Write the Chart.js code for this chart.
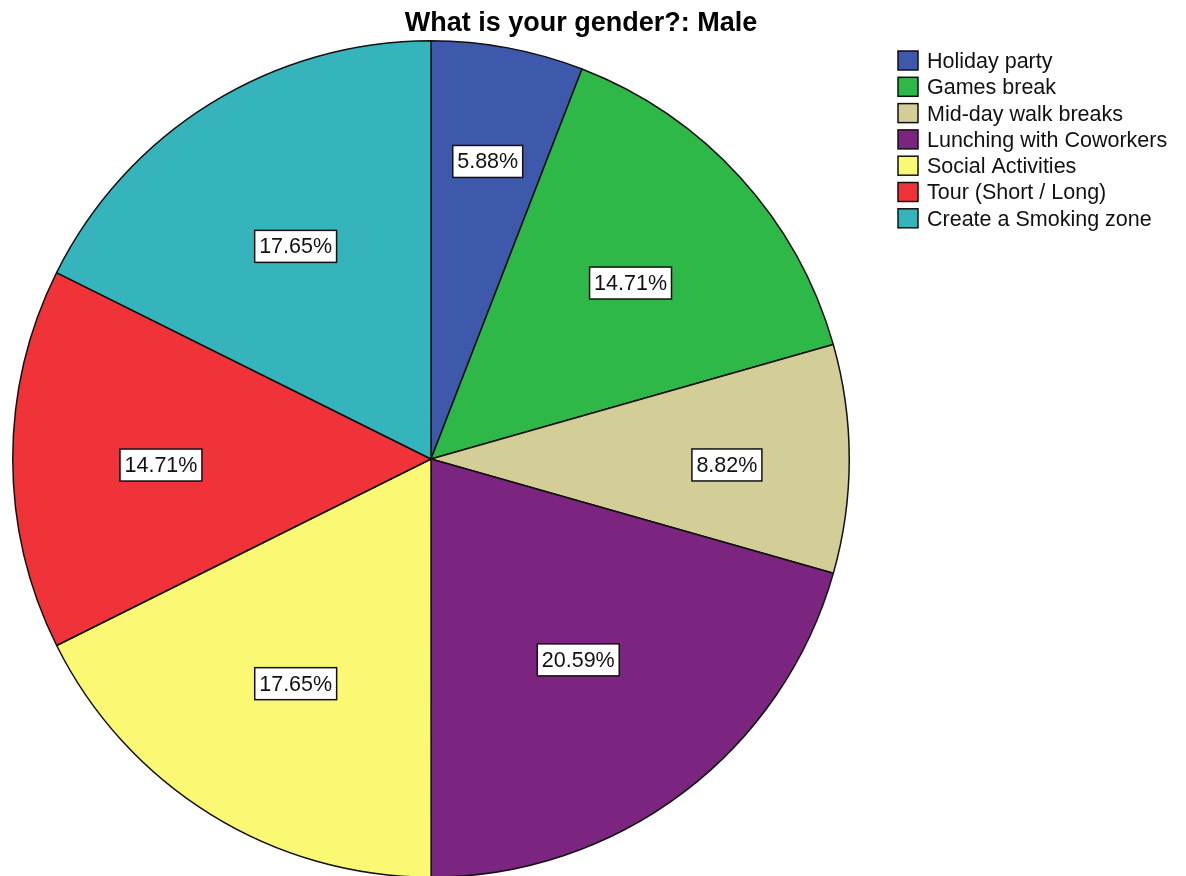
<!DOCTYPE html>
<html>
<head>
<meta charset="utf-8">
<title>What is your gender?: Male</title>
<script src="https://cdn.jsdelivr.net/npm/chart.js@4"></script>
<style>
  html, body { margin: 0; padding: 0; background: #fff; overflow: hidden; }
  #wrap { position: relative; width: 1186px; height: 880px; }
</style>
</head>
<body>
<div id="wrap"><canvas id="pie"></canvas></div>
<script>
const chartTitle = 'What is your gender?: Male';
const categories = [
    'Holiday party',
    'Games break',
    'Mid-day walk breaks',
    'Lunching with Coworkers',
    'Social Activities',
    'Tour (Short / Long)',
    'Create a Smoking zone'
];
const percents = [5.88, 14.71, 8.82, 20.59, 17.65, 14.71, 17.65];
const sliceColors = ['#3e58ac', '#2eb848', '#d3ce97', '#7b2580', '#fbf873', '#ef3338', '#36b4bb'];

const FONT = '"Liberation Sans", Arial, sans-serif';

// title, legend and the boxed percentage labels are painted by hand
const decorations = {
    id: 'decorations',
    afterDatasetsDraw(chart) {
        const ctx = chart.ctx;
        const meta = chart.getDatasetMeta(0);
        ctx.save();

        // value boxes inside each slice
        ctx.font = '21.5px ' + FONT;
        ctx.textAlign = 'center';
        ctx.textBaseline = 'middle';
        meta.data.forEach((arc, i) => {
            const p = arc.getProps(['x', 'y', 'startAngle', 'endAngle', 'outerRadius'], true);
            const mid = (p.startAngle + p.endAngle) / 2;
            const sweep = p.endAngle - p.startAngle;
            const r = p.outerRadius * (0.80 - 0.167 * sweep);
            const cx = p.x + Math.cos(mid) * r;
            const cy = p.y + Math.sin(mid) * r + 6;
            const text = percents[i].toFixed(2) + '%';
            const w = ctx.measureText(text).width + 9;
            const h = 32;
            ctx.fillStyle = '#fff';
            ctx.fillRect(cx - w / 2, cy - h / 2, w, h);
            ctx.strokeStyle = '#111';
            ctx.lineWidth = 1.5;
            ctx.strokeRect(cx - w / 2, cy - h / 2, w, h);
            ctx.fillStyle = '#111';
            ctx.fillText(text, cx, cy + 1);
        });

        // title
        ctx.font = 'bold 27px ' + FONT;
        ctx.fillStyle = '#000';
        ctx.fillText(chartTitle, 581, 24);

        // legend
        ctx.font = '21.5px ' + FONT;
        ctx.textAlign = 'left';
        categories.forEach((name, i) => {
            const y = 61 + i * 26.3;
            ctx.fillStyle = sliceColors[i];
            ctx.fillRect(898, y - 10, 20, 19);
            ctx.strokeStyle = '#111';
            ctx.lineWidth = 1.5;
            ctx.strokeRect(898, y - 10, 20, 19);
            ctx.fillStyle = '#111';
            ctx.fillText(name, 927, y + 1);
        });
        ctx.restore();
    }
};

new Chart(document.getElementById('pie'), {
    type: 'pie',
    data: {
        labels: categories,
        datasets: [{
            data: percents,
            backgroundColor: sliceColors,
            borderColor: '#111',
            borderWidth: 1.5
        }]
    },
    options: {
        responsive: true,
        maintainAspectRatio: false,
        animation: false,
        layout: { padding: { left: 12, right: 336, top: 40, bottom: 2 } },
        plugins: {
            legend: { display: false },
            title: { display: false },
            tooltip: { enabled: false }
        }
    },
    plugins: [decorations]
});
</script>
</body>
</html>
